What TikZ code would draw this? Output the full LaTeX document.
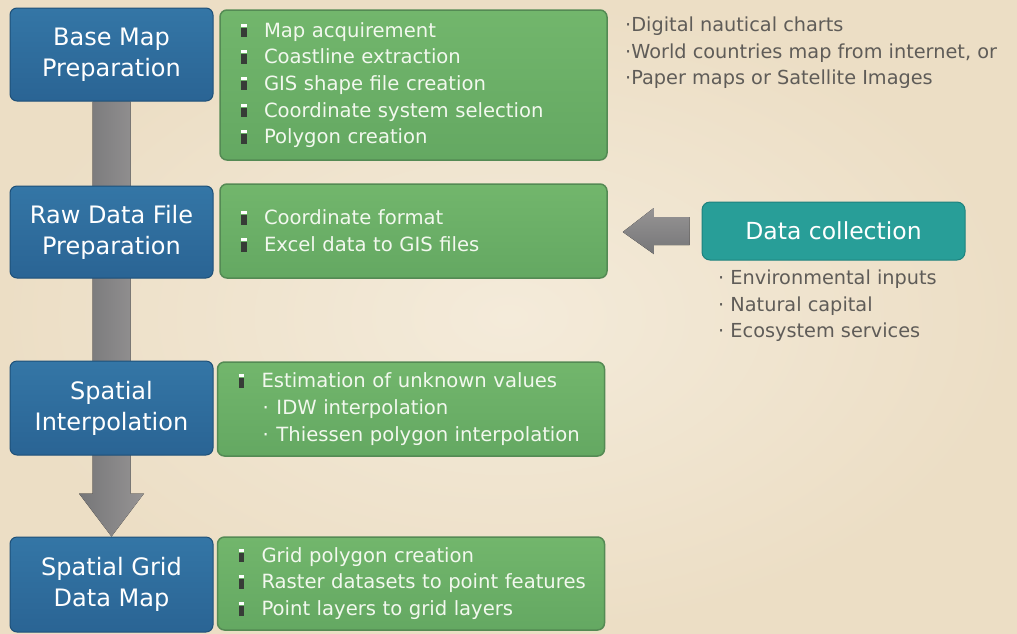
\documentclass[tikz,border=0pt]{standalone}
\usepackage{fontspec}
\setmainfont{DejaVu Sans}
\usetikzlibrary{calc}
\pgfdeclarelayer{bg}
\pgfdeclarelayer{arr}
\pgfsetlayers{bg,arr,main}
\definecolor{bgin}{RGB}{244,235,218}
\definecolor{bgout}{RGB}{236,222,197}
\definecolor{bluetop}{RGB}{52,118,166}
\definecolor{bluebot}{RGB}{42,100,148}
\definecolor{blueline}{RGB}{30,80,120}
\definecolor{greentop}{RGB}{114,182,108}
\definecolor{greenbot}{RGB}{100,168,98}
\definecolor{greenline}{RGB}{84,138,84}
\definecolor{tealfill}{RGB}{40,158,152}
\definecolor{tealline}{RGB}{30,130,126}
\definecolor{greytext}{RGB}{95,92,88}
\definecolor{greentext}{RGB}{242,248,238}
\definecolor{pindark}{RGB}{55,60,55}
\definecolor{arrdark}{RGB}{118,118,120}
\definecolor{arrlight}{RGB}{150,148,148}
\newcommand\pinb{\makebox[36pt][l]{\hspace{13pt}\rlap{\color{pindark}\rule{5.5pt}{9.5pt}}\raisebox{10.5pt}{\color{white}\rule{5.5pt}{3pt}}}}
\newcommand\subb{\makebox[51pt][l]{\hspace{37pt}·}}
\tikzset{
  stepbox/.style={rectangle, rounded corners=7pt, draw=blueline, line width=1pt,
    top color=bluetop, bottom color=bluebot, text=white, align=center,
    minimum width=203pt, inner sep=0pt,
    font=\fontsize{24}{31}\selectfont},
  detailbox/.style={rectangle, rounded corners=7pt, draw=greenline, line width=1.5pt,
    top color=greentop, bottom color=greenbot, text=greentext, align=left,
    text width=371pt, inner xsep=8pt, inner ysep=0pt,
    font=\fontsize{19.6}{26.7}\selectfont},
  collectbox/.style={rectangle, rounded corners=8pt, draw=tealline, line width=1pt,
    fill=tealfill, text=white, minimum width=263pt, minimum height=58pt,
    inner sep=0pt, font=\fontsize{23.5}{28}\selectfont},
  notetext/.style={text=greytext, align=left, inner sep=0pt,
    font=\fontsize{19.3}{26.5}\selectfont},
  flowarrow/.style={left color=arrdark, right color=arrlight, draw=none},
  inarrow/.style={top color=arrlight, bottom color=arrdark, draw=none}
}
\begin{document}
\begin{tikzpicture}[x=1pt,y=-1pt]
\useasboundingbox (0,0) rectangle (1017,633);
\begin{pgfonlayer}{bg}
\shade[inner color=bgin, outer color=bgout] (0,0) rectangle (1017,633);
\end{pgfonlayer}

% blue step boxes
\node[stepbox, minimum height=93pt] (b1) at (111.5,54.5) {Base Map\\Preparation};
\node[stepbox, minimum height=92pt] (b2) at (111.5,232) {Raw Data File\\Preparation};
\node[stepbox, minimum height=94pt] (b3) at (111.5,408) {Spatial\\Interpolation};
\node[stepbox, minimum height=95pt] (b4) at (111.5,584.5) {Spatial Grid\\Data Map};

% green detail boxes
\node[detailbox, minimum height=150pt] (g1) at (413.5,85) {\pinb Map acquirement\\\pinb Coastline extraction\\\pinb GIS shape file creation\\\pinb Coordinate system selection\\\pinb Polygon creation};
\node[detailbox, minimum height=94pt] (g2) at (413.5,231) {\pinb Coordinate format\\\pinb Excel data to GIS files};
\node[detailbox, minimum height=94pt] (g3) at (411,409) {\pinb Estimation of unknown values\\\subb IDW interpolation\\\subb Thiessen polygon interpolation};
\node[detailbox, minimum height=93pt] (g4) at (411,583.5) {\pinb Grid polygon creation\\\pinb Raster datasets to point features\\\pinb Point layers to grid layers};

% data collection
\node[collectbox] (dc) at (833.5,231) {Data collection};

% notes
\node[notetext, anchor=west] (n1) at (625,53) {·Digital nautical charts\\·World countries map from internet, or\\·Paper maps or Satellite Images};
\node[notetext, anchor=west] (n2) at (718,306) {·\ Environmental inputs\\·\ Natural capital\\·\ Ecosystem services};

% connectors
\begin{pgfonlayer}{arr}
\fill[flowarrow] ($(b1.south)+(-19,0)$) -- ($(b4.north)+(-19,-43)$) -- ($(b4.north)+(-32.5,-43)$)
  -- (b4.north) -- ($(b4.north)+(32.5,-43)$) -- ($(b4.north)+(19,-43)$) -- ($(b1.south)+(19,0)$) -- cycle;
\fill[inarrow] ($(g2.east)+(15,1)$) -- ($(g2.east)+(46,-23)$) -- ($(g2.east)+(46,-14)$)
  -- ($(dc.west)+(-12,-14)$) -- ($(dc.west)+(-12,14)$) -- ($(g2.east)+(46,14)$) -- ($(g2.east)+(46,23)$) -- cycle;
\end{pgfonlayer}
\end{tikzpicture}
\end{document}
